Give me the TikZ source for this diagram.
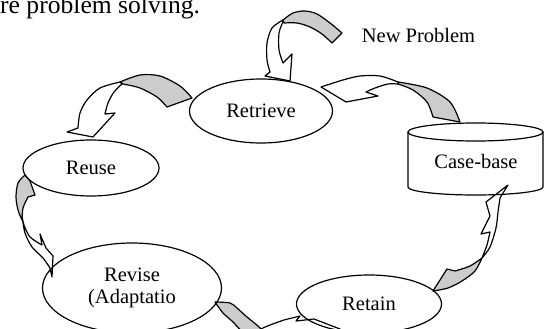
\documentclass[tikz,border=0pt]{standalone}
\usepackage{fontspec}
\setmainfont{Liberation Serif}
\usetikzlibrary{shapes.geometric}
\tikzset{
  stage/.style={draw, ellipse, line width=1.2pt, inner sep=0pt, align=center,
    font=\fontsize{20.5}{22}\selectfont},
  label/.style={inner sep=0pt, font=\fontsize{20.5}{22}\selectfont},
  backside/.style={draw, line width=1.2pt, fill=gray!40, line join=round},
  frontside/.style={draw, line width=1.2pt, fill=white, line join=round},
}
\begin{document}
\begin{tikzpicture}[x=1pt, y=-1pt]
\useasboundingbox (0,0) rectangle (547,329);
\node[anchor=base west, inner sep=0pt, font=\fontsize{25.6}{28}\selectfont] (heading) at (0,14) {re problem solving.};
% new problem -> retrieve
\filldraw[backside] plot[smooth] coordinates {(283,20) (293,13) (305,11) (317,14) (330,23) (342,33)}
  -- (332,43) -- plot[smooth] coordinates {(332,43) (322,34) (310,27) (297,23) (284,23)} -- cycle;
\filldraw[frontside] plot[smooth] coordinates {(283,20) (272,28) (267,43) (267,60) (270,72)}
  -- (265,76) -- (290,81) -- (292,54) -- (283,63)
  -- plot[smooth] coordinates {(283,63) (279,50) (279,33) (283,22)} -- cycle;
% retrieve -> reuse
\filldraw[backside] plot[smooth] coordinates {(120,82) (140,75) (160,76) (180,86) (192,98)}
  -- (167,107) -- plot[smooth] coordinates {(167,107) (157,97) (140,88) (123,84)} -- cycle;
\filldraw[frontside] plot[smooth] coordinates {(120,82) (100,88) (87,100) (80,113) (78,128)}
  -- (67,132) -- (93,137) -- (115,113) -- (105,114)
  -- plot[smooth] coordinates {(105,114) (108,103) (114,92) (122,84)} -- cycle;
% case-base -> retrieve
\filldraw[backside] plot[smooth] coordinates {(398,82) (427,88) (450,102) (460,122)}
  -- (433,117) -- plot[smooth] coordinates {(433,117) (427,102) (413,90) (398,84)} -- cycle;
\filldraw[frontside] plot[smooth] coordinates {(398,82) (380,76) (360,76) (343,80) (321,87)}
  -- (346,102) -- (378,96) -- (366,92)
  -- plot[smooth] coordinates {(366,92) (375,88) (388,84) (398,84)} -- cycle;
% reuse -> revise
\filldraw[backside] plot[smooth] coordinates {(25,175) (18,183) (16,197) (18,210) (22,220)}
  -- plot[smooth] coordinates {(22,220) (23,208) (28,197)} -- (35,195) -- (30,181) -- cycle;
\filldraw[frontside] plot[smooth] coordinates {(22,216) (25,233) (32,247) (43,258) (50,268)}
  -- (52,277) -- (53,256) -- (46,248) -- (40,234) -- (42,245)
  -- plot[smooth] coordinates {(42,245) (30,237) (24,225) (22,216)} -- cycle;
% revise -> retain
\filldraw[backside] plot[smooth] coordinates {(215,302) (230,303) (237,308) (247,317) (258,326) (265,333)}
  -- (243,333) -- plot[smooth] coordinates {(243,333) (233,322) (223,313) (215,302)} -- cycle;
\filldraw[frontside] plot[smooth] coordinates {(256,331) (270,325) (284,320)}
  -- (300,316) -- (296,321) -- (314,319) -- (340,329) -- (330,345) -- (262,345) -- cycle;
% retain -> case-base
\filldraw[backside] (433,291) -- (447,269) -- (455,271)
  -- plot[smooth] coordinates {(455,271) (470,266) (482,258)}
  -- plot[smooth] coordinates {(482,258) (475,271) (462,281) (448,288) (433,291)} -- cycle;
\filldraw[frontside] plot[smooth] coordinates {(482,258) (487,245) (490,232)}
  -- (481,234) -- (490,216) -- (486,202) -- (508,185) -- (500,198)
  -- plot[smooth] coordinates {(500,198) (498,212) (496,228) (490,247) (482,258)} -- cycle;
% stages
\node[stage, minimum width=143pt, minimum height=64pt] (retrieve) at (261,111) {Retrieve};
\node[stage, minimum width=136pt, minimum height=56pt] (reuse) at (91,168) {Reuse};
\node[stage, minimum width=179pt, minimum height=90pt] (revise) at (132,288) {Revise\\(Adaptatio};
\node[stage, minimum width=145pt, minimum height=58pt] (retain) at (369,304) {Retain};
% case-base
\draw[line width=1.2pt] (475.5,132) ellipse [x radius=67.5, y radius=9];
\draw[line width=1.2pt] (408,132) -- (408,187) arc[start angle=180, end angle=0, x radius=67.5, y radius=8] -- (543,132);
\node[label] (casebase) at (476,161) {Case-base};
\node[label, anchor=base] (newproblem) at (418.5,43) {New Problem};
\end{tikzpicture}
\end{document}
